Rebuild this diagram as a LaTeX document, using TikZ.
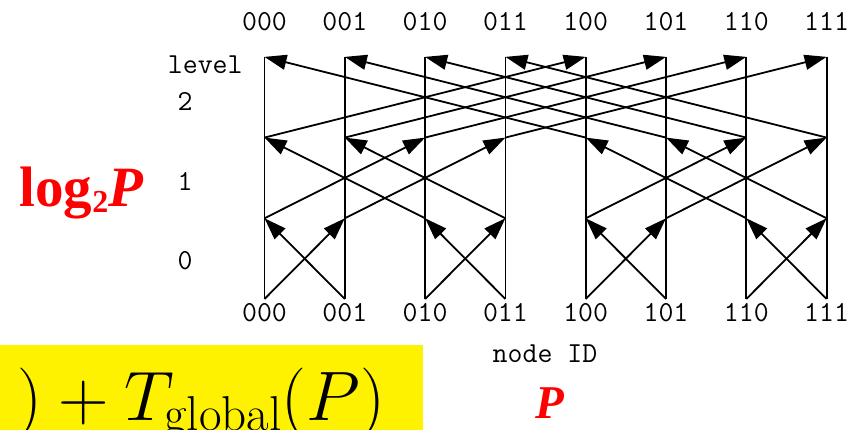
\RequirePackage{fix-cm}
\documentclass[tikz,border=0pt]{standalone}
\usepackage{fontspec}
\newfontfamily\timesfont{Liberation Serif}
\usepackage{tikz}
\usetikzlibrary{arrows.meta, positioning}

\begin{document}
\begin{tikzpicture}[
            x=80.3pt,
            y=80.7pt,
            line width=1.8pt,
            >={Triangle[length=22pt,width=15pt]},
            idtext/.style={font=\ttfamily\fontsize{29}{30}\selectfont, inner sep=0pt, anchor=base},
            redtext/.style={text=red, inner sep=0pt, anchor=base west}
            ]

            \useasboundingbox (-3.294,-1.623) rectangle (7.503,3.705);

            % 网格点
            \foreach \lv in {0,...,3}
                \foreach \cv in {0,...,7}
                    \coordinate (p\lv\cv) at (\cv,\lv);

            % 顶部编号
            \node[idtext] (t000) at (0,3.333) {000};
            \node[idtext] (t001) at (1,3.333) {001};
            \node[idtext] (t010) at (2,3.333) {010};
            \node[idtext] (t011) at (3,3.333) {011};
            \node[idtext] (t100) at (4,3.333) {100};
            \node[idtext] (t101) at (5,3.333) {101};
            \node[idtext] (t110) at (6,3.333) {110};
            \node[idtext] (t111) at (7,3.333) {111};

            % 底部编号
            \node[idtext] (b000) at (0,-0.281) {000};
            \node[idtext] (b001) at (1,-0.281) {001};
            \node[idtext] (b010) at (2,-0.281) {010};
            \node[idtext] (b011) at (3,-0.281) {011};
            \node[idtext] (b100) at (4,-0.281) {100};
            \node[idtext] (b101) at (5,-0.281) {101};
            \node[idtext] (b110) at (6,-0.281) {110};
            \node[idtext] (b111) at (7,-0.281) {111};

            % 层号
            \node[idtext, anchor=base west] (level) at (-1.214,2.80) {level};
            \node[idtext] (lv2) at (-0.99,2.33) {2};
            \node[idtext] (lv1) at (-0.99,1.35) {1};
            \node[idtext] (lv0) at (-0.99,0.36) {0};
            \node[idtext] (nodeid) at (3.493,-0.793) {node ID};

            % 红色标注
            \node[redtext, font=\timesfont\bfseries\fontsize{57}{57}\selectfont] (logp) at (-3.062,1.140)
                {log\raisebox{-0.1em}{\fontsize{32}{32}\selectfont 2}\textit{P}};
            \node[redtext, font=\timesfont\bfseries\itshape\fontsize{47}{47}\selectfont] (pp) at (3.36,-1.475) {P};

            % 黄色公式框
            \fill[yellow] (-3.294,-0.570) rectangle (1.974,-1.623);
            \begin{scope}
                \clip (-3.294,-0.570) rectangle (1.974,-1.623);
                \node[inner sep=0pt, anchor=base east, font=\fontsize{70}{70}\selectfont] (tglobal) at (1.513,-1.50)
                    {$) + T_{\mathrm{global}}(P)$};
            \end{scope}

            % 竖线
            \draw (p00) -- (p30);
            \draw (p01) -- (p31);
            \draw (p02) -- (p32);
            \draw (p03) -- (p33);
            \draw (p04) -- (p34);
            \draw (p05) -- (p35);
            \draw (p06) -- (p36);
            \draw (p07) -- (p37);

            % 第0层 -> 第1层
            \draw[->] (p00) -- (p11);
            \draw[->] (p01) -- (p10);
            \draw[->] (p02) -- (p13);
            \draw[->] (p03) -- (p12);
            \draw[->] (p04) -- (p15);
            \draw[->] (p05) -- (p14);
            \draw[->] (p06) -- (p17);
            \draw[->] (p07) -- (p16);

            % 第1层 -> 第2层
            \draw[->] (p10) -- (p22);
            \draw[->] (p11) -- (p23);
            \draw[->] (p12) -- (p20);
            \draw[->] (p13) -- (p21);
            \draw[->] (p14) -- (p26);
            \draw[->] (p15) -- (p27);
            \draw[->] (p16) -- (p24);
            \draw[->] (p17) -- (p25);

            % 第2层 -> 第3层
            \draw[->] (p20) -- (p34);
            \draw[->] (p21) -- (p35);
            \draw[->] (p22) -- (p36);
            \draw[->] (p23) -- (p37);
            \draw[->] (p24) -- (p30);
            \draw[->] (p25) -- (p31);
            \draw[->] (p26) -- (p32);
            \draw[->] (p27) -- (p33);
        \end{tikzpicture}
\end{document}
